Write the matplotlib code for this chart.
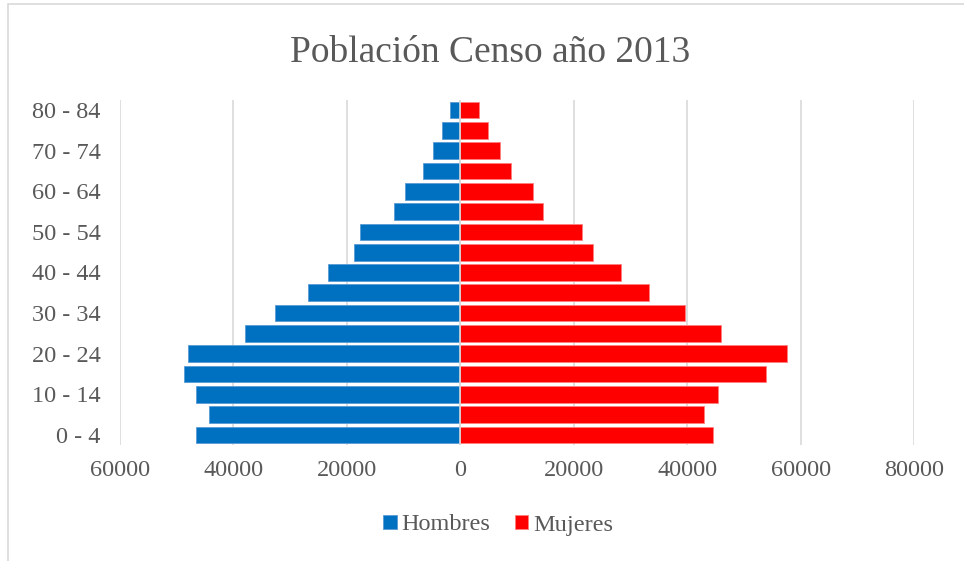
import numpy as np
import matplotlib.pyplot as plt
from matplotlib.patches import Rectangle

edades = ["0 - 4", "5 - 9", "10 - 14", "15 - 19", "20 - 24", "25 - 29", "30 - 34",
          "35 - 39", "40 - 44", "45 - 49", "50 - 54", "55 - 59", "60 - 64",
          "65 - 69", "70 - 74", "75 - 79", "80 - 84"]
hombres = [46600, 44350, 46650, 48800, 48050, 38000, 32600, 26900, 23350,
           18750, 17700, 11650, 9700, 6500, 4850, 3300, 1850]
mujeres = [44600, 43050, 45500, 53950, 57600, 46050, 39650, 33350, 28350,
           23450, 21400, 14550, 12800, 8950, 6950, 4850, 3300]
xticks = [-60000, -40000, -20000, 0, 20000, 40000, 60000, 80000]

plt.rcParams['font.family'] = ['Liberation Serif', 'DejaVu Serif']
gris = "#595959"

fig = plt.figure(figsize=(9.64, 5.61), dpi=100)
ax = fig.add_axes([120/964, 1-445/561, 794/964, 345/561])

y = np.arange(len(edades))
ax.barh(y, [-h for h in hombres], height=0.82, color="#0070C0",
        edgecolor="#5b9bd5", linewidth=0.6, label="Hombres", zorder=3)
ax.barh(y, mujeres, height=0.82, color="#FF0000",
        edgecolor="#ff7f7f", linewidth=0.6, label="Mujeres", zorder=3)
ax.axvline(0, color="#d9d9d9", lw=1.2, zorder=4)

ax.set_xlim(-60000, 80000)
ax.set_ylim(-0.5, len(edades) - 0.5)
ax.set_xticks(xticks)
ax.set_xticklabels([str(abs(t)) for t in xticks])
ax.set_yticks(y[::2])
ax.set_yticklabels(edades[::2])
ax.tick_params(axis='both', length=0, labelsize=17.5, colors=gris)
ax.tick_params(axis='x', pad=11)
ax.tick_params(axis='y', pad=14)
ax.grid(axis='x', color="#d9d9d9", lw=1.2, zorder=0)
for s in ax.spines.values():
    s.set_visible(False)

fig.text(490/964, 1-62/561, "Población Censo año 2013", fontsize=27,
         color=gris, ha='center', va='baseline')

leg = fig.legend(loc='center', bbox_to_anchor=(498/964, 1-525/561), ncol=2,
                 frameon=False, fontsize=17.5, handlelength=0.55, handleheight=0.55,
                 handletextpad=0.2, columnspacing=1.0)
for t in leg.get_texts():
    t.set_color(gris)

fig.patches.append(Rectangle((8/964, -0.1), 1.2, 1.1 - 4/561,
                             transform=fig.transFigure, fill=False,
                             edgecolor="#d9d9d9", lw=1.2))

fig.savefig("out.png", dpi=100)
